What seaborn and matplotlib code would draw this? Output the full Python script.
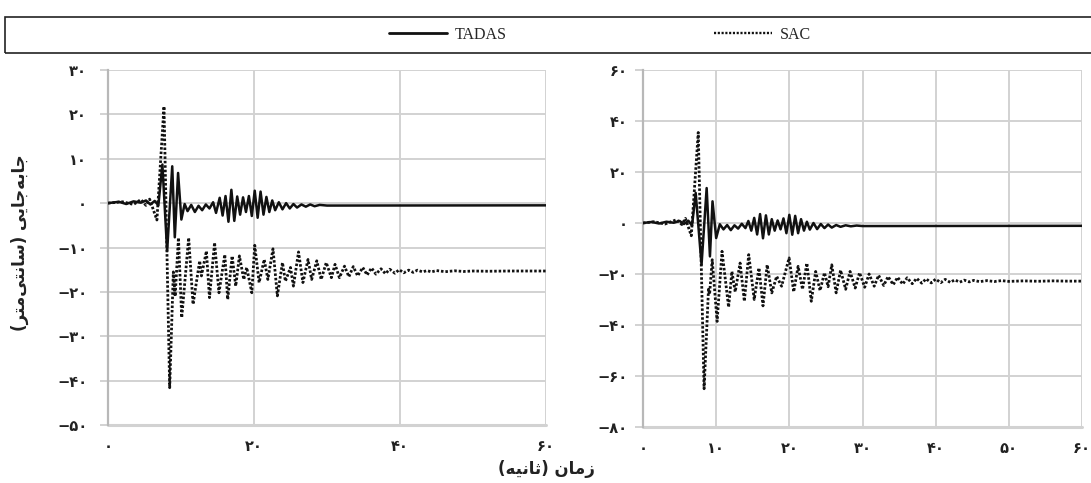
import matplotlib
matplotlib.use("Agg")
import matplotlib.pyplot as plt
from matplotlib.ticker import FuncFormatter, FixedLocator
from matplotlib.lines import Line2D
from matplotlib.patches import Rectangle
from matplotlib import font_manager
from matplotlib.ft2font import FT2Font
import seaborn as sns

# ---------------- data: displacement time histories (cm vs s) ----------------
tadas_left_t = [0, 1.5, 2.5, 3.5, 4.5, 5.2, 5.8, 6.4, 6.9, 7.45, 8.1, 8.8, 9.15, 9.6, 10.05,
                10.5, 10.9, 11.4, 11.9, 12.4, 12.9, 13.4, 13.9, 14.4, 14.8, 15.3, 15.7, 16.1,
                16.5, 16.9, 17.3, 17.7, 18.1, 18.5, 18.9, 19.3, 19.7, 20.1, 20.5, 20.9, 21.3,
                21.7, 22.1, 22.5, 22.9, 23.4, 23.9, 24.4, 24.9, 25.4, 25.9, 26.5, 27.1, 27.7,
                28.3, 29.0, 30.0, 60.0]
tadas_left_v = [0.0, 0.3, -0.2, 0.4, 0.1, 0.6, -0.3, 0.5, -0.5, 8.7, -10.8, 8.3, -7.7, 6.8, -3.7,
                -0.2, -1.8, -0.4, -2.0, -0.6, -1.6, -0.3, -1.2, 0.2, -2.2, 1.2, -2.8, 1.6,
                -4.2, 3.0, -4.0, 1.5, -2.6, 1.3, -2.0, 1.6, -2.9, 2.8, -3.3, 2.6, -2.6,
                1.4, -2.0, 0.6, -1.6, 0.2, -1.4, 0.0, -1.2, -0.2, -1.0, -0.3, -0.8, -0.3,
                -0.7, -0.4, -0.55, -0.5]

sac_left_t = [0, 2.0, 3.5, 4.5, 5.2, 5.7, 6.7, 7.67, 8.45, 8.95, 9.2, 9.65, 10.1, 11.05, 11.65,
              12.56, 12.8, 13.48, 13.9, 14.6, 15.2, 16.0, 16.4, 17.0, 17.5, 18.0, 18.6, 19.0,
              19.7, 20.1, 20.7, 21.4, 21.9, 22.6, 23.2, 23.9, 24.3, 25.0, 25.4, 26.1, 26.7,
              27.4, 27.9, 28.6, 29.2, 29.9, 30.6, 31.1, 31.7, 32.4, 33.0, 33.6, 34.2, 34.9,
              35.5, 36.1, 36.7, 37.4, 38.0, 38.6, 39.3, 39.9, 40.5, 41.2, 41.8, 42.4, 43.1,
              43.7, 44.3, 45.0, 46.2, 47.5, 48.7, 50.0, 52.0, 55.0, 60.0]
sac_left_v = [0.0, 0.3, -0.3, 0.8, -0.5, 0.9, -3.8, 21.8, -41.6, -15.5, -21.0, -7.8, -25.8, -7.8, -22.8,
              -13.0, -16.4, -10.8, -21.3, -8.9, -20.2, -11.6, -21.7, -11.9, -18.7, -11.9, -17.2, -14.5,
              -20.2, -9.5, -17.9, -12.7, -17.2, -10.3, -20.9, -13.4, -17.6, -14.5, -18.7, -11.0, -17.9,
              -12.7, -17.2, -13.0, -17.2, -13.4, -16.8, -13.8, -16.8, -14.2, -16.6, -14.3, -16.4, -14.5,
              -16.2, -14.6, -16.0, -14.8, -15.9, -14.9, -15.8, -15.0, -15.7, -15.1, -15.6, -15.1, -15.5,
              -15.2, -15.5, -15.2, -15.45, -15.25, -15.4, -15.3, -15.35, -15.3, -15.3]

tadas_right_t = [0, 1.2, 2.2, 3.2, 4.2, 5.0, 5.6, 6.2, 6.7, 7.2, 8.0, 8.7, 9.15, 9.5, 10.0,
                 10.5, 11.0, 11.5, 12.0, 12.5, 13.0, 13.5, 14.0, 14.4, 14.8, 15.2, 15.6, 16.0,
                 16.4, 16.8, 17.2, 17.6, 18.0, 18.4, 18.8, 19.2, 19.6, 20.0, 20.4, 20.8, 21.2,
                 21.6, 22.0, 22.4, 22.8, 23.3, 23.8, 24.3, 24.8, 25.3, 25.8, 26.4, 27.0, 27.7,
                 28.4, 29.2, 30.0, 60.0]
tadas_right_v = [0.0, 0.4, -0.2, 0.5, 0.1, 0.8, -0.4, 0.9, -1.0, 11.8, -16.4, 13.7, -13.1, 8.5, -5.9,
                 -0.5, -2.5, -0.8, -2.8, -0.9, -2.2, -0.3, -2.0, 0.8, -3.0, 2.0, -4.5, 3.5,
                 -6.0, 3.0, -4.5, 1.5, -3.0, 1.0, -2.5, 1.8, -4.0, 3.2, -4.6, 2.8, -4.0,
                 1.5, -3.0, 0.5, -2.6, 0.0, -2.4, -0.4, -2.0, -0.6, -1.8, -0.8, -1.5, -0.9,
                 -1.3, -1.0, -1.2, -1.1]

sac_right_t = [0, 1.5, 3.0, 4.6, 5.3, 5.8, 6.6, 7.55, 8.35, 8.95, 9.1, 9.46, 10.13, 10.8, 11.7,
               12.15, 12.6, 13.27, 13.85, 14.45, 15.2, 15.85, 16.4, 16.97, 17.6, 18.27, 18.94,
               19.97, 20.6, 21.2, 21.8, 22.4, 23.0, 23.6, 24.2, 24.8, 25.3, 25.8, 26.4, 27.0,
               27.7, 28.3, 29.0, 29.6, 30.3, 30.9, 31.6, 32.2, 32.9, 33.5, 34.2, 34.8, 35.5,
               36.1, 36.8, 37.4, 38.1, 38.7, 39.4, 40.0, 40.7, 41.3, 42.0, 42.6, 43.3, 43.9,
               44.6, 45.2, 46.0, 47.0, 48.0, 49.0, 50.0, 52.0, 54.0, 56.0, 58.0, 60.0]
sac_right_v = [0.0, 0.5, -0.4, 1.3, -0.6, 1.8, -5.0, 35.5, -65.0, -26.0, -28.0, -14.4, -38.6, -11.1, -33.0,
               -19.0, -27.0, -15.7, -30.7, -12.4, -30.0, -17.6, -32.5, -16.4, -27.4, -20.9, -24.8,
               -13.7, -27.0, -17.0, -26.0, -15.7, -30.7, -19.0, -26.5, -19.5, -25.0, -16.4, -27.4, -18.5,
               -26.0, -19.0, -25.5, -19.5, -25.2, -20.0, -24.8, -20.5, -24.5, -21.0, -24.2, -21.3, -24.0,
               -21.5, -23.8, -21.7, -23.6, -21.9, -23.5, -22.0, -23.4, -22.1, -23.3, -22.3, -23.2, -22.4,
               -23.1, -22.5, -23.0, -22.6, -22.95, -22.6, -22.9, -22.7, -22.85, -22.7, -22.8, -22.8]

left_yticks = [30, 20, 10, 0, -10, -20, -30, -40, -50]
left_xticks = [0, 20, 40, 60]
right_yticks = [60, 40, 20, 0, -20, -40, -60, -80]
right_xticks = [0, 10, 20, 30, 40, 50, 60]

series_names = ["TADAS", "SAC"]
y_label = "جابه‌جایی (سانتی‌متر)"
x_label = "زمان (ثانیه)"

# ---------------- style ----------------
sns.set_theme(style="white")
plt.rcParams["font.family"] = ["DejaVu Sans"]

GRID = "#d2d2d2"
SPINE = "#b8b8b8"
INK = "#111111"
DOTS = (0, (0.9, 0.7))

# ---------------- Arabic-script shaping (presentation forms, visual order) ----------------
_dv = FT2Font(font_manager.findfont("DejaVu Sans"))
_cmap = _dv.get_charmap()
if all(cp in _cmap for cp in (0xFBFC, 0xFBFD, 0xFBFE, 0xFBFF)):
    _yeh = ("\uFBFC", "\uFBFD", "\uFBFE", "\uFBFF")
else:
    _yeh = ("\uFEEF", "\uFEF0", "\uFEF3", "\uFEF4")

FORMS = {  # isolated, final, initial, medial
    "ا": ("\uFE8D", "\uFE8E", None, None),
    "ب": ("\uFE8F", "\uFE90", "\uFE91", "\uFE92"),
    "ت": ("\uFE95", "\uFE96", "\uFE97", "\uFE98"),
    "ث": ("\uFE99", "\uFE9A", "\uFE9B", "\uFE9C"),
    "ج": ("\uFE9D", "\uFE9E", "\uFE9F", "\uFEA0"),
    "ر": ("\uFEAD", "\uFEAE", None, None),
    "ز": ("\uFEAF", "\uFEB0", None, None),
    "س": ("\uFEB1", "\uFEB2", "\uFEB3", "\uFEB4"),
    "م": ("\uFEE1", "\uFEE2", "\uFEE3", "\uFEE4"),
    "ن": ("\uFEE5", "\uFEE6", "\uFEE7", "\uFEE8"),
    "ه": ("\uFEE9", "\uFEEA", "\uFEEB", "\uFEEC"),
    "ی": _yeh,
}


def shape_rtl(text):
    chars = list(text)
    out = []
    for i, c in enumerate(chars):
        if c not in FORMS:
            if c != "\u200c":
                out.append(c)
            continue
        prev = chars[i - 1] if i > 0 else None
        nxt = chars[i + 1] if i + 1 < len(chars) else None
        iso, fin, ini, med = FORMS[c]
        jp = prev in FORMS and FORMS[prev][2] is not None
        jn = ini is not None and nxt in FORMS
        if jp and jn:
            out.append(med)
        elif jp:
            out.append(fin)
        elif jn:
            out.append(ini)
        else:
            out.append(iso)
    return "".join(reversed(out)).translate(str.maketrans("()", ")("))


PERSIAN_DIGITS = str.maketrans("0123456789", "۰۱۲۳۴۵۶۷۸۹")


def fa_num(v, _pos=None):
    s = str(abs(int(round(v)))).translate(PERSIAN_DIGITS)
    return ("\u2212" + s) if v < 0 else s


# ---------------- figure ----------------
fig = plt.figure(figsize=(10.91, 4.83), dpi=100)
ax_l = fig.add_axes([108 / 1091, 1 - 425 / 483, (546 - 108) / 1091, (425 - 70) / 483])
ax_r = fig.add_axes([643 / 1091, 1 - 427 / 483, (1082 - 643) / 1091, (427 - 70) / 483])

panels = [
    (ax_l, tadas_left_t, tadas_left_v, sac_left_t, sac_left_v, left_xticks, left_yticks, 15),
    (ax_r, tadas_right_t, tadas_right_v, sac_right_t, sac_right_v, right_xticks, right_yticks, 11),
]

for ax, tt, tv, st, sv, xt, yt, ypad in panels:
    sns.lineplot(x=tt, y=tv, ax=ax, color=INK, linewidth=1.8, sort=False,
                 estimator=None, label=series_names[0], zorder=3)
    sns.lineplot(x=st, y=sv, ax=ax, color=INK, linewidth=2.0, sort=False,
                 estimator=None, label=series_names[1], linestyle=DOTS, zorder=3)
    ax.set_xlim(min(xt), max(xt))
    ax.set_ylim(min(yt), max(yt))
    ax.xaxis.set_major_locator(FixedLocator(xt))
    ax.yaxis.set_major_locator(FixedLocator(yt))
    ax.xaxis.set_major_formatter(FuncFormatter(fa_num))
    ax.yaxis.set_major_formatter(FuncFormatter(fa_num))
    ax.grid(True, color=GRID, linewidth=1.4)
    ax.set_axisbelow(True)
    for side in ("top", "right", "bottom"):
        ax.spines[side].set_visible(False)
    ax.spines["left"].set_color(SPINE)
    ax.spines["left"].set_linewidth(1.6)
    ax.tick_params(axis="y", length=6, width=1.4, color=GRID, pad=ypad - 6,
                   labelsize=10.5, labelcolor="#222222", left=True)
    ax.tick_params(axis="x", length=0, pad=10, labelsize=10.5, labelcolor="#222222", bottom=True)
    ax.set_xlabel("")
    ax.set_ylabel("")
    if ax.get_legend() is not None:
        ax.get_legend().remove()
    for lbl in ax.get_xticklabels() + ax.get_yticklabels():
        lbl.set_fontweight("bold")

# bottom frame line at the lowest grid value
for ax in (ax_l, ax_r):
    ax.axhline(ax.get_ylim()[0], color=GRID, linewidth=2.2, zorder=1, clip_on=False)

# ---------------- legend band ----------------
fig.add_artist(Rectangle((5 / 1091, 1 - 53 / 483), 1.1, 36 / 483, transform=fig.transFigure,
                         fill=False, edgecolor="#222222", linewidth=1.2))
handles = [Line2D([], [], color=INK, linewidth=2.0),
           Line2D([], [], color=INK, linewidth=1.7, linestyle=DOTS)]
fig.legend(handles, series_names, loc="center", bbox_to_anchor=(600 / 1091, 1 - 35 / 483),
           ncol=2, frameon=False, handlelength=3.6, handletextpad=0.5, columnspacing=13,
           prop={"family": "Liberation Serif", "size": 11.5})

# ---------------- axis titles ----------------
fig.text(20 / 1091, 1 - 243 / 483, shape_rtl(y_label), rotation=90, ha="center", va="center",
         fontsize=12, fontweight="bold", color="#222222")
fig.text(546 / 1091, 1 - 469 / 483, shape_rtl(x_label), ha="center", va="center",
         fontsize=12, fontweight="bold", color="#222222")

fig.savefig("out.png", dpi=100)
